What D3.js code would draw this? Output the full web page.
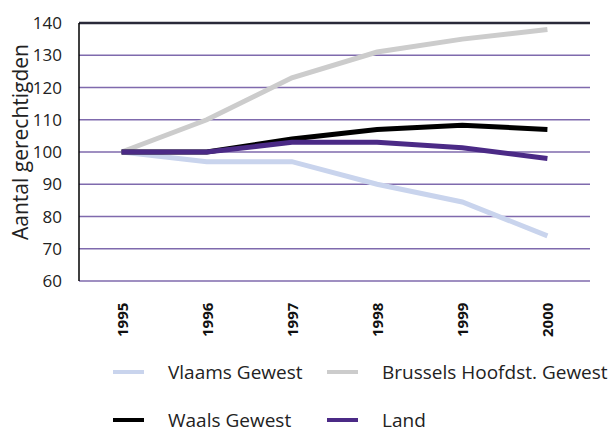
<!DOCTYPE html>
<html><head><meta charset="utf-8">
<script src="https://cdn.jsdelivr.net/npm/d3@7"></script>
<style>body{margin:0;background:#fff}svg{display:block;font-family:"Open Sans",sans-serif}</style>
</head><body><svg id="c" width="608" height="429"></svg>
<script>
const years = ["1995","1996","1997","1998","1999","2000"];
const vlaams = [100, 97, 97, 90, 84.5, 74];
const brussels = [100, 110, 123, 131, 135, 138];
const waals = [100, 100, 104, 107, 108.3, 107];
const land = [100, 100, 103, 103, 101.3, 98];
const yTicks = [60,70,80,90,100,110,120,130,140];
const seriesNames = ["Vlaams Gewest","Brussels Hoofdst. Gewest","Waals Gewest","Land"];
const seriesColors = ["#c9d4ed","#cccccc","#000000","#4b2a86"];
const seriesData = [vlaams, brussels, waals, land];

const svg = d3.select("#c");
const L=79, R=590, T=23, B=281;
const x = d3.scaleBand().domain(years).range([L,R]);
const y = d3.scaleLinear().domain([60,140]).range([B,T]);

// gridlines
svg.append("g").selectAll("line").data(yTicks).join("line")
  .attr("x1",L).attr("x2",R).attr("y1",d=>y(d)).attr("y2",d=>y(d))
  .attr("stroke",d=>d===140?"#2a2a3a":"#7f6aad").attr("stroke-width",d=>d===140?2.5:1.5);
// left axis
svg.append("line").attr("x1",L).attr("x2",L).attr("y1",T).attr("y2",B).attr("stroke","#000").attr("stroke-width",1.5);

// y tick labels
svg.append("g").selectAll("text").data(yTicks).join("text")
  .attr("x",62).attr("y",d=>y(d)).attr("dy","0.36em").attr("text-anchor","end")
  .attr("font-size",17).attr("fill","#222").text(d=>d);

// y title
svg.append("text").attr("transform","translate(28,142) rotate(-90)").attr("text-anchor","middle")
  .attr("font-size",21).attr("fill","#222").text("Aantal gerechtigden");

// x labels
svg.append("g").selectAll("text").data(years).join("text")
  .attr("transform",d=>`translate(${x(d)+x.bandwidth()/2+6},337) rotate(-90)`)
  .attr("text-anchor","start").attr("font-size",15).attr("font-weight","bold").attr("fill","#111").text(d=>d);

// lines
const line = d3.line().x((d,i)=>x(years[i])+x.bandwidth()/2).y(d=>y(d));
svg.append("g").selectAll("path").data(seriesData).join("path")
  .attr("d",d=>line(d)).attr("fill","none")
  .attr("stroke",(d,i)=>seriesColors[i]).attr("stroke-width",5);

// legend
const legPos = [[113,372],[327,372],[113,420],[327,420]];
const lg = svg.append("g").selectAll("g").data(seriesNames).join("g")
  .attr("transform",(d,i)=>`translate(${legPos[i][0]},${legPos[i][1]})`);
lg.append("line").attr("x1",0).attr("x2",31).attr("y1",0).attr("y2",0)
  .attr("stroke",(d,i)=>seriesColors[i]).attr("stroke-width",4);
lg.append("text").attr("x",55).attr("y",0).attr("dy","0.35em").attr("font-size",19).attr("fill","#222").text(d=>d);
</script></body></html>
